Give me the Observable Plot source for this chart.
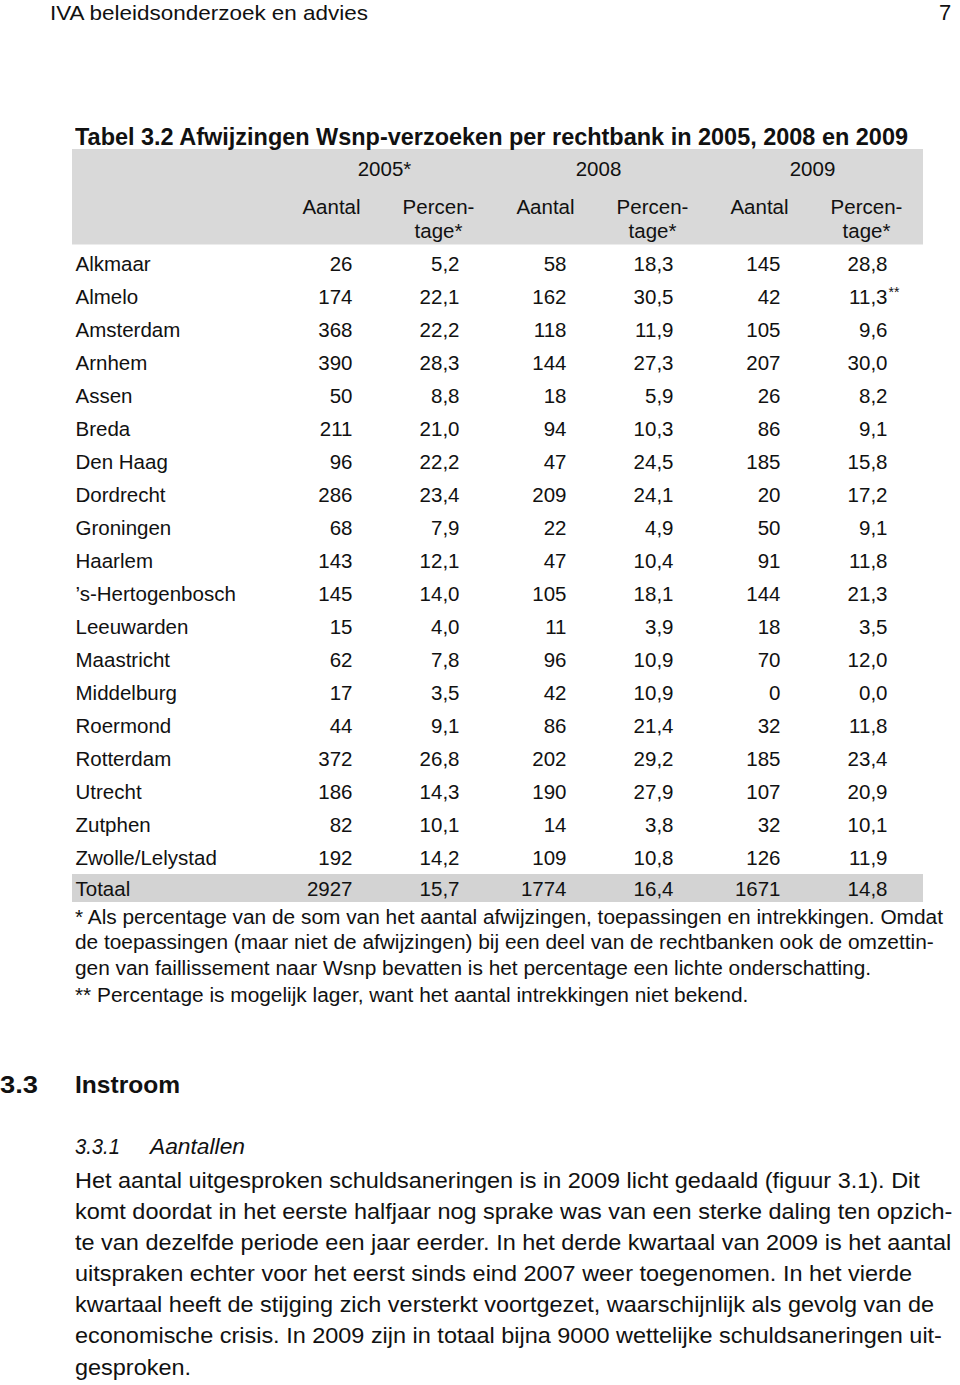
<!DOCTYPE html>
<html><head><meta charset="utf-8">
<script src="https://cdn.jsdelivr.net/npm/d3@7"></script>
<script src="https://cdn.jsdelivr.net/npm/@observablehq/plot@0.6"></script>
<style>
body{margin:0;background:#fff;}
#page{position:relative;width:960px;height:1385px;overflow:hidden;font-family:"Liberation Sans",Arial,sans-serif;color:#111;background:#fff;}
.t{position:absolute;white-space:nowrap;line-height:1;transform-origin:0 0;}
#tbl{position:absolute;left:0;top:0;}
</style></head><body><div id="page"><div id="tbl"></div></div>
<script>
// ---- data ----
const rechtbanken = ["Alkmaar","Almelo","Amsterdam","Arnhem","Assen","Breda","Den Haag","Dordrecht","Groningen","Haarlem","\u2019s-Hertogenbosch","Leeuwarden","Maastricht","Middelburg","Roermond","Rotterdam","Utrecht","Zutphen","Zwolle/Lelystad"];
const aantal2005 = [26,174,368,390,50,211,96,286,68,143,145,15,62,17,44,372,186,82,192];
const pct2005    = [5.2,22.1,22.2,28.3,8.8,21.0,22.2,23.4,7.9,12.1,14.0,4.0,7.8,3.5,9.1,26.8,14.3,10.1,14.2];
const aantal2008 = [58,162,118,144,18,94,47,209,22,47,105,11,96,42,86,202,190,14,109];
const pct2008    = [18.3,30.5,11.9,27.3,5.9,10.3,24.5,24.1,4.9,10.4,18.1,3.9,10.9,10.9,21.4,29.2,27.9,3.8,10.8];
const aantal2009 = [145,42,105,207,26,86,185,20,50,91,144,18,70,0,32,185,107,32,126];
const pct2009    = [28.8,11.3,9.6,30.0,8.2,9.1,15.8,17.2,9.1,11.8,21.3,3.5,12.0,0.0,11.8,23.4,20.9,10.1,11.9];
const noot2009   = ["","**","","","","","","","","","","","","","","","","","",""];
const totaalLabel = "Totaal";
const totaalAantal = [2927,1774,1671];
const totaalPct    = [15.7,16.4,14.8];
const jaren = ["2005*","2008","2009"];
const kolomKop = ["Aantal","Percen-","Aantal","Percen-","Aantal","Percen-"];
const kolomKop2 = ["","tage*","","tage*","","tage*"];

// ---- build table ----
const colKeys = ["a2005","p2005","a2008","p2008","a2009","p2009"];
const fmt = v => v.toFixed(1).replace(".", ",");
const rows = rechtbanken.map((r,i) => ({row:r, vals:[aantal2005[i], fmt(pct2005[i]), aantal2008[i], fmt(pct2008[i]), aantal2009[i], fmt(pct2009[i])]}));
rows.push({row: totaalLabel, vals:[totaalAantal[0], fmt(totaalPct[0]), totaalAantal[1], fmt(totaalPct[1]), totaalAantal[2], fmt(totaalPct[2])]});
const cells = rows.flatMap(r => colKeys.map((c,j) => ({row:r.row, col:c, label:String(r.vals[j])})));
const notes = rechtbanken.map((r,i) => ({row:r, col:"p2009", label:noot2009[i]})).filter(d => d.label);
const hdrKeys = ["_jaar","_kop1","_kop2"];
const yDomain = [...hdrKeys, ...rechtbanken, totaalLabel];
const rowH = 33.17, y0 = 146;
const kop1 = colKeys.map((c,j) => ({col:c, label:kolomKop[j]}));
const kop2 = colKeys.map((c,j) => ({col:c, label:kolomKop2[j]})).filter(d => d.label);
const jaarData = jaren.map((j,i) => ({col: colKeys[i*2], label:j}));
const dataRows = rows.filter(r => r.row !== totaalLabel);

const chart = Plot.plot({
  width: 960, height: 915,
  marginLeft: 72, marginRight: 37, marginTop: 0, marginBottom: 0,
  x: {type:"point", domain: colKeys, range:[351, 887], padding:0, axis:null},
  y: {type:"band", domain: yDomain, range:[y0, y0 + yDomain.length*rowH], padding:0, axis:null},
  style: {fontFamily:"'Liberation Sans', Arial, sans-serif", fontSize:"20.5px", color:"#111", background:"transparent", overflow:"visible"},
  marks: [
    Plot.cell(["_jaar"], {y: d => d, fill:"#d9d9d9", insetTop: 1}),
    Plot.cell(["_kop1"], {y: d => d, fill:"#d9d9d9"}),
    Plot.cell(["_kop2"], {y: d => d, fill:"#d9d9d9", insetBottom: 2.5}),
    Plot.cell([totaalLabel], {y: d => d, fill:"#d3d3d3", insetTop: 0, insetBottom: 5}),
    Plot.text(jaarData, {x:"col", y: () => "_jaar", text:"label", dx:32, dy:4, textAnchor:"middle", fill:"#111"}),
    Plot.text(kop1, {x:"col", y: () => "_kop1", text:"label", dx:-21, dy:9, textAnchor:"middle", fill:"#111"}),
    Plot.text(kop2, {x:"col", y: () => "_kop2", text:"label", dx:-21, dy:0, textAnchor:"middle", fill:"#111"}),
    Plot.text(dataRows, {y:"row", text:"row", frameAnchor:"left", textAnchor:"start", dx:3, fill:"#111"}),
    Plot.text([totaalLabel], {y: d => d, text: d => d, frameAnchor:"left", textAnchor:"start", dx:3, dy:-1.5, fill:"#111"}),
    Plot.text(cells.filter(d => d.row !== totaalLabel), {x:"col", y:"row", text:"label", textAnchor:"end", fill:"#111"}),
    Plot.text(cells.filter(d => d.row === totaalLabel), {x:"col", y:"row", text:"label", textAnchor:"end", dy:-1.5, fill:"#111"}),
    Plot.text(notes, {x:"col", y:"row", text:"label", textAnchor:"start", dx:1, dy:-4, fontSize:14, fill:"#111"})
  ]
});
document.getElementById("tbl").appendChild(chart);

// ---- page text ----
const pageTexts = [
  {t:"IVA beleidsonderzoek en advies", x:50, y:12, fs:21, w:318},
  {t:"7", x:939, y:12.5, fs:22},
  {t:"Tabel 3.2 Afwijzingen Wsnp-verzoeken per rechtbank in 2005, 2008 en 2009", x:75, y:137, fs:24, fw:"bold", w:833},
  {t:"* Als percentage van de som van het aantal afwijzingen, toepassingen en intrekkingen. Omdat", x:75, y:918, fs:19.5, k:1.069},
  {t:"de toepassingen (maar niet de afwijzingen) bij een deel van de rechtbanken ook de omzettin-", x:75, y:943, fs:19.5, k:1.069},
  {t:"gen van faillissement naar Wsnp bevatten is het percentage een lichte onderschatting.", x:75, y:969, fs:19.5, k:1.069},
  {t:"** Percentage is mogelijk lager, want het aantal intrekkingen niet bekend.", x:75, y:996, fs:19.5, k:1.069},
  {t:"3.3", x:0, y:1085, fs:24, fw:"bold", w:38},
  {t:"Instroom", x:75, y:1085, fs:24, fw:"bold", w:105},
  {t:"3.3.1", x:75, y:1147, fs:22, st:"italic", w:45},
  {t:"Aantallen", x:150, y:1147, fs:22, st:"italic", w:95},
  {t:"Het aantal uitgesproken schuldsaneringen is in 2009 licht gedaald (figuur 3.1). Dit", x:75, y:1181, fs:22, k:1.066},
  {t:"komt doordat in het eerste halfjaar nog sprake was van een sterke daling ten opzich-", x:75, y:1212, fs:22, k:1.066},
  {t:"te van dezelfde periode een jaar eerder. In het derde kwartaal van 2009 is het aantal", x:75, y:1243, fs:22, k:1.066},
  {t:"uitspraken echter voor het eerst sinds eind 2007 weer toegenomen. In het vierde", x:75, y:1274, fs:22, k:1.066},
  {t:"kwartaal heeft de stijging zich versterkt voortgezet, waarschijnlijk als gevolg van de", x:75, y:1305, fs:22, k:1.066},
  {t:"economische crisis. In 2009 zijn in totaal bijna 9000 wettelijke schuldsaneringen uit-", x:75, y:1336, fs:22, k:1.066},
  {t:"gesproken.", x:75, y:1368, fs:22, k:1.066}
];
const page = document.getElementById("page");
for (const p of pageTexts) {
  const d = document.createElement("div");
  d.className = "t";
  d.textContent = p.t;
  d.style.left = p.x + "px";
  d.style.top = (p.y - 0.49*p.fs) + "px";
  d.style.fontSize = p.fs + "px";
  if (p.fw) d.style.fontWeight = p.fw;
  if (p.st) d.style.fontStyle = p.st;
  page.appendChild(d);
  let k = p.k || 1;
  if (p.w) { const nat = d.getBoundingClientRect().width; if (nat > 0) k = p.w / nat; }
  if (k !== 1) d.style.transform = "scaleX(" + k.toFixed(4) + ")";
}
</script>
</body></html>
